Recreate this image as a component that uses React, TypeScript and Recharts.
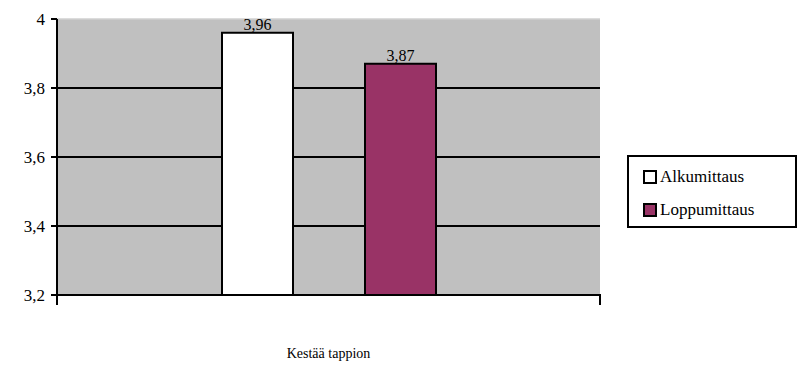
import React from 'react';
import { BarChart, Bar, XAxis, YAxis, CartesianGrid, LabelList } from 'recharts';

const categories = ['Kestää tappion'];
const alkumittaus = [3.96];
const loppumittaus = [3.87];
const yTicks = [3.2, 3.4, 3.6, 3.8, 4];
const seriesNames = ['Alkumittaus', 'Loppumittaus'];
const seriesColors = ['#FFFFFF', '#993366'];

const data = categories.map((c, i) => ({ name: c, a: alkumittaus[i], b: loppumittaus[i] }));

const FONT = "'Liberation Serif', 'DejaVu Serif', 'Noto Serif', serif";
const fmt = (v: any) => String(v).replace('.', ',');

const GridLine = (p: any) => {
  const isTop = p.y1 <= 20;
  return (
    <line
      key={p.key}
      x1={p.x1}
      x2={p.x2}
      y1={p.y1}
      y2={p.y2}
      stroke={isTop ? '#d0d0d0' : '#000'}
      strokeWidth={isTop ? 1.5 : 2}
    />
  );
};

const CatTick = (p: any) => {
  const w = Number(p.width) || 0;
  const n = Number(p.visibleTicksCount) || 1;
  const band = w / n;
  const axisY = p.y - 9;
  return (
    <g>
      {w > 0 && (
        <>
          <line x1={p.x - band / 2} x2={p.x - band / 2} y1={axisY} y2={axisY + 11} stroke="#000" strokeWidth={2} />
          <line x1={p.x + band / 2} x2={p.x + band / 2} y1={axisY} y2={axisY + 11} stroke="#000" strokeWidth={2} />
        </>
      )}
      <text x={p.x} y={p.y + 55} textAnchor="middle" style={{ fontFamily: FONT }} fontSize={14} fill="#000">
        {p.payload.value}
      </text>
    </g>
  );
};

const LegendBox = () => (
  <div
    style={{
      position: 'absolute',
      left: 627,
      top: 155,
      border: '2px solid #000',
      width: 170,
      height: 73,
      boxSizing: 'border-box',
      fontFamily: FONT,
      fontSize: 17,
      padding: '6px 0 0 14px',
      background: '#fff',
    }}
  >
    {seriesNames.map((n, i) => (
      <div key={n} style={{ display: 'flex', alignItems: 'center', height: 28, marginBottom: 5 }}>
        <span
          style={{
            display: 'inline-block',
            width: 10,
            height: 10,
            border: '2px solid #000',
            background: seriesColors[i],
            marginRight: 3,
          }}
        />
        <span>{n}</span>
      </div>
    ))}
  </div>
);

export default function App() {
  return (
    <div style={{ position: 'absolute', left: 0, top: 0, width: 800, height: 368, fontFamily: FONT }}>
      <BarChart
        width={800}
        height={368}
        data={data}
        margin={{ top: 19, right: 200, bottom: 72, left: 0 }}
        barCategoryGap={165}
        barGap={72}
        style={{ fontFamily: FONT }}
      >
        <CartesianGrid fill="#C0C0C0" vertical={false} horizontal={GridLine as any} />
        <XAxis
          dataKey="name"
          height={1}
          axisLine={{ stroke: '#000', strokeWidth: 2 }}
          tickLine={false}
          tick={CatTick as any}
        />
        <YAxis
          width={57}
          domain={[3.2, 4]}
          ticks={yTicks}
          interval={0}
          tickFormatter={fmt}
          axisLine={{ stroke: '#000', strokeWidth: 2 }}
          tickLine={{ stroke: '#000', strokeWidth: 2 }}
          tickSize={6}
          tickMargin={6}
          tick={{ fill: '#000', fontSize: 17, style: { fontFamily: FONT } }}
        />
        <Bar dataKey="a" name={seriesNames[0]} fill={seriesColors[0]} stroke="#000" strokeWidth={2} isAnimationActive={false}>
          <LabelList dataKey="a" position="top" offset={3} formatter={fmt} fill="#000" style={{ fontFamily: FONT }} fontSize={16} />
        </Bar>
        <Bar dataKey="b" name={seriesNames[1]} fill={seriesColors[1]} stroke="#000" strokeWidth={2} isAnimationActive={false}>
          <LabelList dataKey="b" position="top" offset={3} formatter={fmt} fill="#000" style={{ fontFamily: FONT }} fontSize={16} />
        </Bar>
      </BarChart>
      <LegendBox />
    </div>
  );
}
